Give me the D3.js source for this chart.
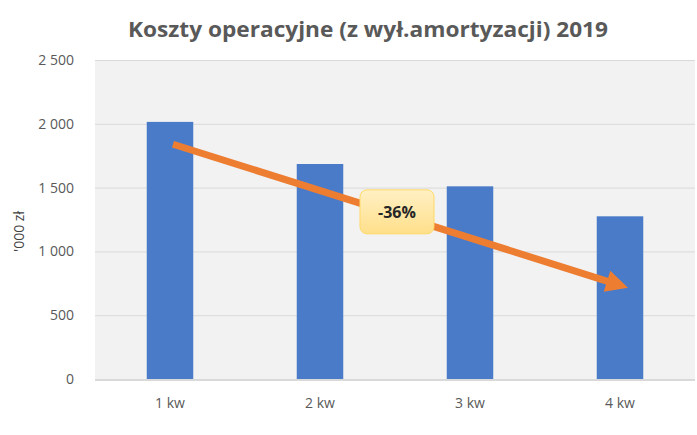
<!DOCTYPE html>
<html>
<head>
<meta charset="utf-8">
<script src="https://d3js.org/d3.v7.min.js"></script>
<style>
  body { margin: 0; background: #fff; }
  text { font-family: "Open Sans", "Noto Sans", sans-serif; }
</style>
</head>
<body>
<svg width="697" height="435"></svg>
<script>
// data
const quarters = ["1 kw", "2 kw", "3 kw", "4 kw"];
const costs = [2015, 1685, 1510, 1275];
const yTicks = [0, 500, 1000, 1500, 2000, 2500];
// trend arrow (start/end as category + value) and its label
const trendFrom = ["1 kw", 1840];
const trendTo = ["4 kw", 715];
const trendLabel = "-36%";

const svg = d3.select("svg");
const W = 697, H = 435;
const margin = {top: 60, right: 2, bottom: 55, left: 95};

const x = d3.scaleBand()
  .domain(quarters)
  .range([margin.left, W - margin.right])
  .paddingInner(0.69)
  .paddingOuter(0.345);

const y = d3.scaleLinear()
  .domain([0, 2500])
  .range([H - margin.bottom - 1, margin.top]);

const fmt = v => d3.format(",")(v).replace(/,/g, " ");

// plot background
svg.append("rect")
  .attr("x", margin.left).attr("y", margin.top)
  .attr("width", W - margin.right - margin.left)
  .attr("height", H - margin.bottom - margin.top)
  .attr("fill", "#f2f2f2");

// title
svg.append("text")
  .attr("x", 368).attr("y", 37)
  .attr("text-anchor", "middle")
  .attr("font-size", 21.5)
  .attr("font-weight", "bold")
  .attr("fill", "#595959")
  .attr("textLength", 480)
  .attr("lengthAdjust", "spacingAndGlyphs")
  .text("Koszty operacyjne (z wył.amortyzacji) 2019");

// y grid + labels
const yAxis = d3.axisLeft(y).tickValues(yTicks)
  .tickSize(-(W - margin.right - margin.left))
  .tickPadding(21)
  .tickFormat(fmt);
const gy = svg.append("g")
  .attr("transform", `translate(${margin.left},0)`)
  .call(yAxis);
gy.select(".domain").remove();
gy.selectAll(".tick line").attr("stroke", "#d9d9d9").attr("stroke-width", 1);
gy.selectAll(".tick text")
  .attr("fill", "#595959")
  .attr("font-size", 14)
  .style("font-family", "'Open Sans', sans-serif");

// y axis title
svg.append("text")
  .attr("transform", `translate(24,${(y(0) + y(2500)) / 2 + 12}) rotate(-90)`)
  .attr("text-anchor", "middle")
  .attr("font-size", 14)
  .attr("fill", "#404040")
  .text("'000 zł");

// bars
svg.selectAll("rect.bar")
  .data(costs)
  .join("rect")
  .attr("class", "bar")
  .attr("x", (d, i) => x(quarters[i]))
  .attr("y", d => y(d))
  .attr("width", x.bandwidth())
  .attr("height", d => y(0) - y(d))
  .attr("fill", "#4a7bc9");

// baseline
svg.append("line")
  .attr("x1", margin.left).attr("x2", W - margin.right)
  .attr("y1", y(0) + 1).attr("y2", y(0) + 1)
  .attr("stroke", "#d9d9d9").attr("stroke-width", 2);

// x axis labels
const xAxis = d3.axisBottom(x).tickSize(0).tickPadding(18);
const gx = svg.append("g")
  .attr("transform", `translate(0,${y(0) + 1})`)
  .call(xAxis);
gx.select(".domain").remove();
gx.selectAll(".tick text")
  .attr("fill", "#595959")
  .attr("font-size", 14)
  .style("font-family", "'Open Sans', sans-serif");

// trend arrow
const cx = c => x(c) + x.bandwidth() / 2;
const x1 = cx(trendFrom[0]) + 3, y1 = y(trendFrom[1]);
const x2 = cx(trendTo[0]) + 8, y2 = y(trendTo[1]);
const len = Math.hypot(x2 - x1, y2 - y1);
const ux = (x2 - x1) / len, uy = (y2 - y1) / len;
const headL = 22, headW = 11;
const bx = x2 - ux * headL, by = y2 - uy * headL;
svg.append("line")
  .attr("x1", x1).attr("y1", y1)
  .attr("x2", bx + ux * 4).attr("y2", by + uy * 4)
  .attr("stroke", "#ed7d31").attr("stroke-width", 7);
svg.append("path")
  .attr("d", d3.line()([
    [x2, y2],
    [bx - uy * headW, by + ux * headW],
    [bx + uy * headW, by - ux * headW]
  ]) + "Z")
  .attr("fill", "#ed7d31");

// label box
const defs = svg.append("defs");
const grad = defs.append("linearGradient")
  .attr("id", "boxGrad").attr("x1", 0).attr("y1", 0).attr("x2", 0).attr("y2", 1);
grad.append("stop").attr("offset", "0%").attr("stop-color", "#fff0c4");
grad.append("stop").attr("offset", "100%").attr("stop-color", "#ffdf8a");

const lx = (cx("2 kw") + cx("3 kw")) / 2 + 2;
const ly = y(1310);
svg.append("rect")
  .attr("x", lx - 37).attr("y", ly - 22)
  .attr("width", 74).attr("height", 44)
  .attr("rx", 7)
  .attr("fill", "url(#boxGrad)")
  .attr("stroke", "#ffd966").attr("stroke-width", 1);
svg.append("text")
  .attr("x", lx).attr("y", ly + 6)
  .attr("text-anchor", "middle")
  .attr("font-size", 16)
  .attr("font-weight", "bold")
  .attr("fill", "#262626")
  .text(trendLabel);
</script>
</body>
</html>
